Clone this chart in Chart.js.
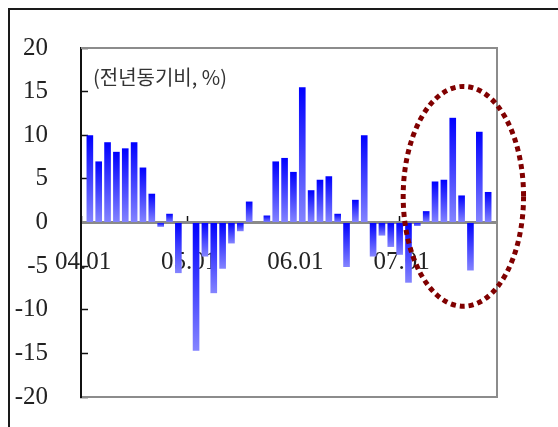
<!DOCTYPE html>
<html><head><meta charset="utf-8">
<script src="https://cdn.jsdelivr.net/npm/chart.js@4/dist/chart.umd.min.js"></script>
<style>html,body{margin:0;padding:0;background:#fff;overflow:hidden;}</style>
</head><body>
<canvas id="c" width="558" height="427" style="width:558px;height:427px;display:block"></canvas>
<script>
const categories = [
  '04.01','04.02','04.03','04.04','04.05','04.06','04.07','04.08','04.09','04.10','04.11','04.12',
  '05.01','05.02','05.03','05.04','05.05','05.06','05.07','05.08','05.09','05.10','05.11','05.12',
  '06.01','06.02','06.03','06.04','06.05','06.06','06.07','06.08','06.09','06.10','06.11','06.12',
  '07.01','07.02','07.03','07.04','07.05','07.06','07.07','07.08','07.09','07.10','07.11','07.12'
];
const values = [
  null, 10.0, 7.0, 9.2, 8.1, 8.5, 9.2, 6.3, 3.3, -0.5, 1.0, -5.8,
  null, -14.7, -3.9, -8.1, -5.3, -2.4, -1.0, 2.4, null, 0.8, 7.0, 7.4,
  5.8, 15.5, 3.7, 4.9, 5.3, 1.0, -5.1, 2.6, 10.0, -3.9, -1.5, -2.8,
  -3.7, -6.9, -0.4, 1.3, 4.7, 4.9, 12.0, 3.1, -5.5, 10.4, 3.5, null
];
const yTickValues = [-20, -15, -10, -5, 0, 5, 10, 15, 20];
const xTickLabels = ['04.01', '05.01', '06.01', '07.01'];
const unitNote = '(전년동기비, %)';

function barGradient(context) {
  const chart = context.chart;
  const ys = chart.scales && chart.scales.y;
  if (context.type !== 'data' || !ys || context.raw == null) return '#3030ff';
  const p1 = ys.getPixelForValue(context.raw);
  const p0 = ys.getPixelForValue(0);
  const top = Math.min(p0, p1), bot = Math.max(p0, p1);
  if (!isFinite(top) || !isFinite(bot) || bot - top < 0.5) return '#3030ff';
  const g = chart.ctx.createLinearGradient(0, top, 0, bot);
  g.addColorStop(0, '#0000ff');
  g.addColorStop(1, '#8484ff');
  return g;
}

function zeroPad(s) { s.paddingLeft = 0; s.paddingRight = 0; s.paddingTop = 0; s.paddingBottom = 0; }

const decor = {
  id: 'decor',
  afterDraw(chart) {
    const {ctx, chartArea: a, scales: {x, y}} = chart;
    ctx.save();
    ctx.strokeStyle = '#8c8c8c';
    ctx.lineWidth = 2;
    ctx.beginPath();
    ctx.moveTo(a.left, a.top); ctx.lineTo(a.right, a.top);
    ctx.lineTo(a.right, a.bottom); ctx.lineTo(a.left + 1, a.bottom);
    ctx.stroke();
    ctx.strokeStyle = '#1a1a1a';
    ctx.lineWidth = 2;
    ctx.beginPath();
    ctx.moveTo(9, chart.height); ctx.lineTo(9, 9); ctx.lineTo(chart.width, 9);
    ctx.stroke();
    ctx.fillStyle = '#333';
    ctx.font = '20px "Noto Sans CJK KR"';
    ctx.textBaseline = 'middle';
    ctx.textAlign = 'left';
    ctx.fillText(unitNote, 93, 77);
    const cx = x.getPixelForValue(43.2), cy = y.getPixelForValue(3);
    const rx = x.getPixelForValue(50) - cx;
    const ry = cy - y.getPixelForValue(15.6);
    ctx.strokeStyle = '#800000';
    ctx.lineWidth = 5;
    ctx.setLineDash([5, 4]);
    ctx.beginPath();
    ctx.ellipse(cx, cy, rx, ry, 0, 0, Math.PI * 2);
    ctx.stroke();
    ctx.restore();
  }
};

new Chart(document.getElementById('c'), {
  type: 'bar',
  data: {
    labels: categories,
    datasets: [{
      data: values,
      backgroundColor: barGradient,
      borderWidth: 0,
      barPercentage: 0.75,
      categoryPercentage: 1
    }]
  },
  options: {
    responsive: false,
    animation: false,
    layout: {padding: {left: 15, top: 48, right: 61, bottom: 30}},
    plugins: {legend: {display: false}, tooltip: {enabled: false}},
    scales: {
      x: {
        type: 'category',
        offset: false,
        position: {y: 0},
        afterFit: (s) => { zeroPad(s); },
        border: {display: true, color: '#8a8a8a', width: 3},
        grid: {
          display: true, offset: false, drawOnChartArea: false, drawTicks: true,
          tickLength: -8, tickWidth: 1.5,
          tickColor: (c) => xTickLabels.includes(categories[c.index]) ? '#111' : 'rgba(0,0,0,0)'
        },
        ticks: {
          autoSkip: false, maxRotation: 0, minRotation: 0, padding: 33,
          color: '#222', font: {family: 'Liberation Serif', size: 25},
          labelOffset: 2,
          callback: (v, i) => xTickLabels.includes(categories[i]) ? categories[i] : ''
        }
      },
      y: {
        min: -20, max: 20,
        afterBuildTicks: (s) => { s.ticks = yTickValues.map(v => ({value: v})); },
        afterFit: (s) => { s.width = 66; zeroPad(s); },
        border: {display: true, color: '#111', width: 2},
        grid: {drawOnChartArea: false, drawTicks: true, tickLength: -7, tickWidth: 1.5, tickColor: '#111'},
        ticks: {padding: 40, color: '#222', font: {family: 'Liberation Serif', size: 25}}
      }
    }
  },
  plugins: [decor]
});
</script>
</body></html>
